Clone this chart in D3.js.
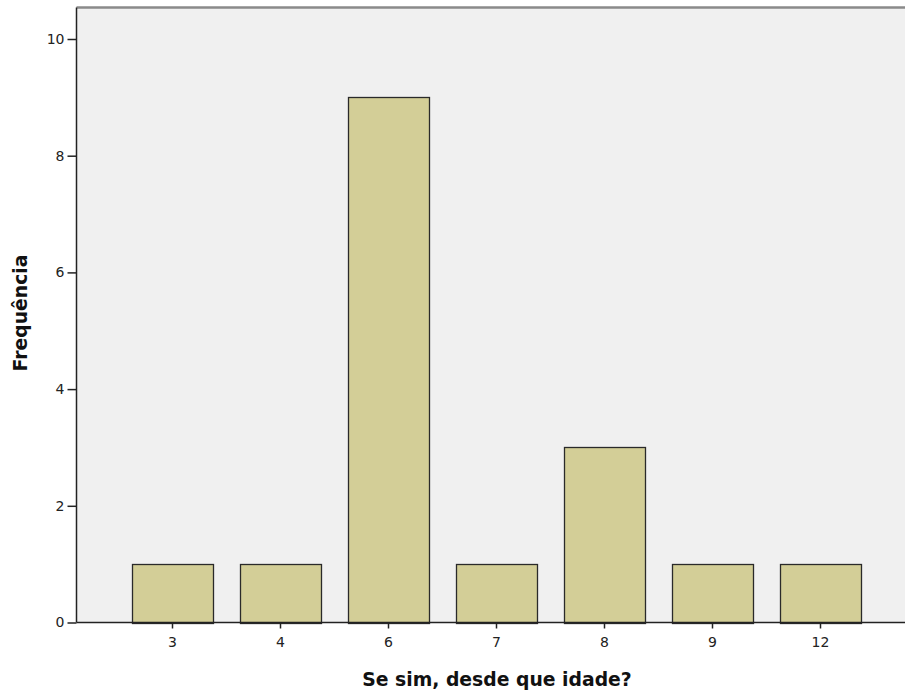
<!DOCTYPE html>
<html><head><meta charset="utf-8">
<script src="https://cdn.jsdelivr.net/npm/d3@7/dist/d3.min.js"></script>
<style>body{margin:0;background:#fff}svg{display:block}text{font-family:"DejaVu Sans",Arial,sans-serif}</style>
</head><body><svg id="c" width="905" height="693"></svg>
<script>
const categories = ["3","4","6","7","8","9","12"];
const counts = [1,1,9,1,3,1,1];
const yTicks = [0,2,4,6,8,10];
const xTitle = "Se sim, desde que idade?";
const yTitle = "Frequência";

const svg = d3.select("#c");
const L = 76.5, R = 905, T = 7.5, B = 622.5;
const y = d3.scaleLinear().domain([0, 10]).range([B, 39]);
const x = d3.scaleBand().domain(categories).range([118.5, 874.5]).paddingInner(0.25).paddingOuter(0.125);

svg.append("rect").attr("x", L).attr("y", T).attr("width", R - L).attr("height", B - T).attr("fill", "#f0f0f0");
svg.append("line").attr("x1", L).attr("x2", R).attr("y1", T).attr("y2", T).attr("stroke", "#8a8a8a").attr("stroke-width", 2.5);

svg.selectAll("rect.bar").data(counts).enter().append("rect").attr("class", "bar")
  .attr("x", (d, i) => Math.round(x(categories[i])) + 0.5)
  .attr("width", Math.round(x.bandwidth()))
  .attr("y", d => Math.round(y(d)) + 0.5)
  .attr("height", d => Math.round(y(0)) - Math.round(y(d)))
  .attr("fill", "#d3ce97").attr("stroke", "#2a2a2a").attr("stroke-width", 1.3);

const yAxis = svg.append("g").attr("transform", `translate(${L},0)`)
  .call(d3.axisLeft(y).tickValues(yTicks).tickSize(9).tickPadding(3).tickFormat(d3.format("d")));
yAxis.attr("font-family", null).attr("font-size", null);
yAxis.select(".domain").attr("d", `M0,${T}V${B}`).attr("stroke", "#222").attr("stroke-width", 1.5);
yAxis.selectAll(".tick line").attr("stroke", "#222").attr("stroke-width", 1.5);
yAxis.selectAll("text").attr("font-size", 14).attr("fill", "#222");

const xAxis = svg.append("g").attr("transform", `translate(0,${B})`)
  .call(d3.axisBottom(x).tickSize(6).tickPadding(5));
xAxis.attr("font-family", null).attr("font-size", null);
xAxis.select(".domain").attr("d", `M${L},0H${R}`).attr("stroke", "#222").attr("stroke-width", 1.5);
xAxis.selectAll(".tick line").attr("stroke", "#222").attr("stroke-width", 1.5);
xAxis.selectAll("text").attr("font-size", 14).attr("fill", "#222").attr("y", 15);

svg.append("text").attr("x", 497).attr("y", 686).attr("text-anchor", "middle")
  .attr("font-size", 18.8).attr("font-weight", "bold").attr("fill", "#111").text(xTitle);
svg.append("text").attr("transform", "translate(27,313) rotate(-90)").attr("text-anchor", "middle")
  .attr("font-size", 18.8).attr("font-weight", "bold").attr("fill", "#111").text(yTitle);
</script></body></html>
